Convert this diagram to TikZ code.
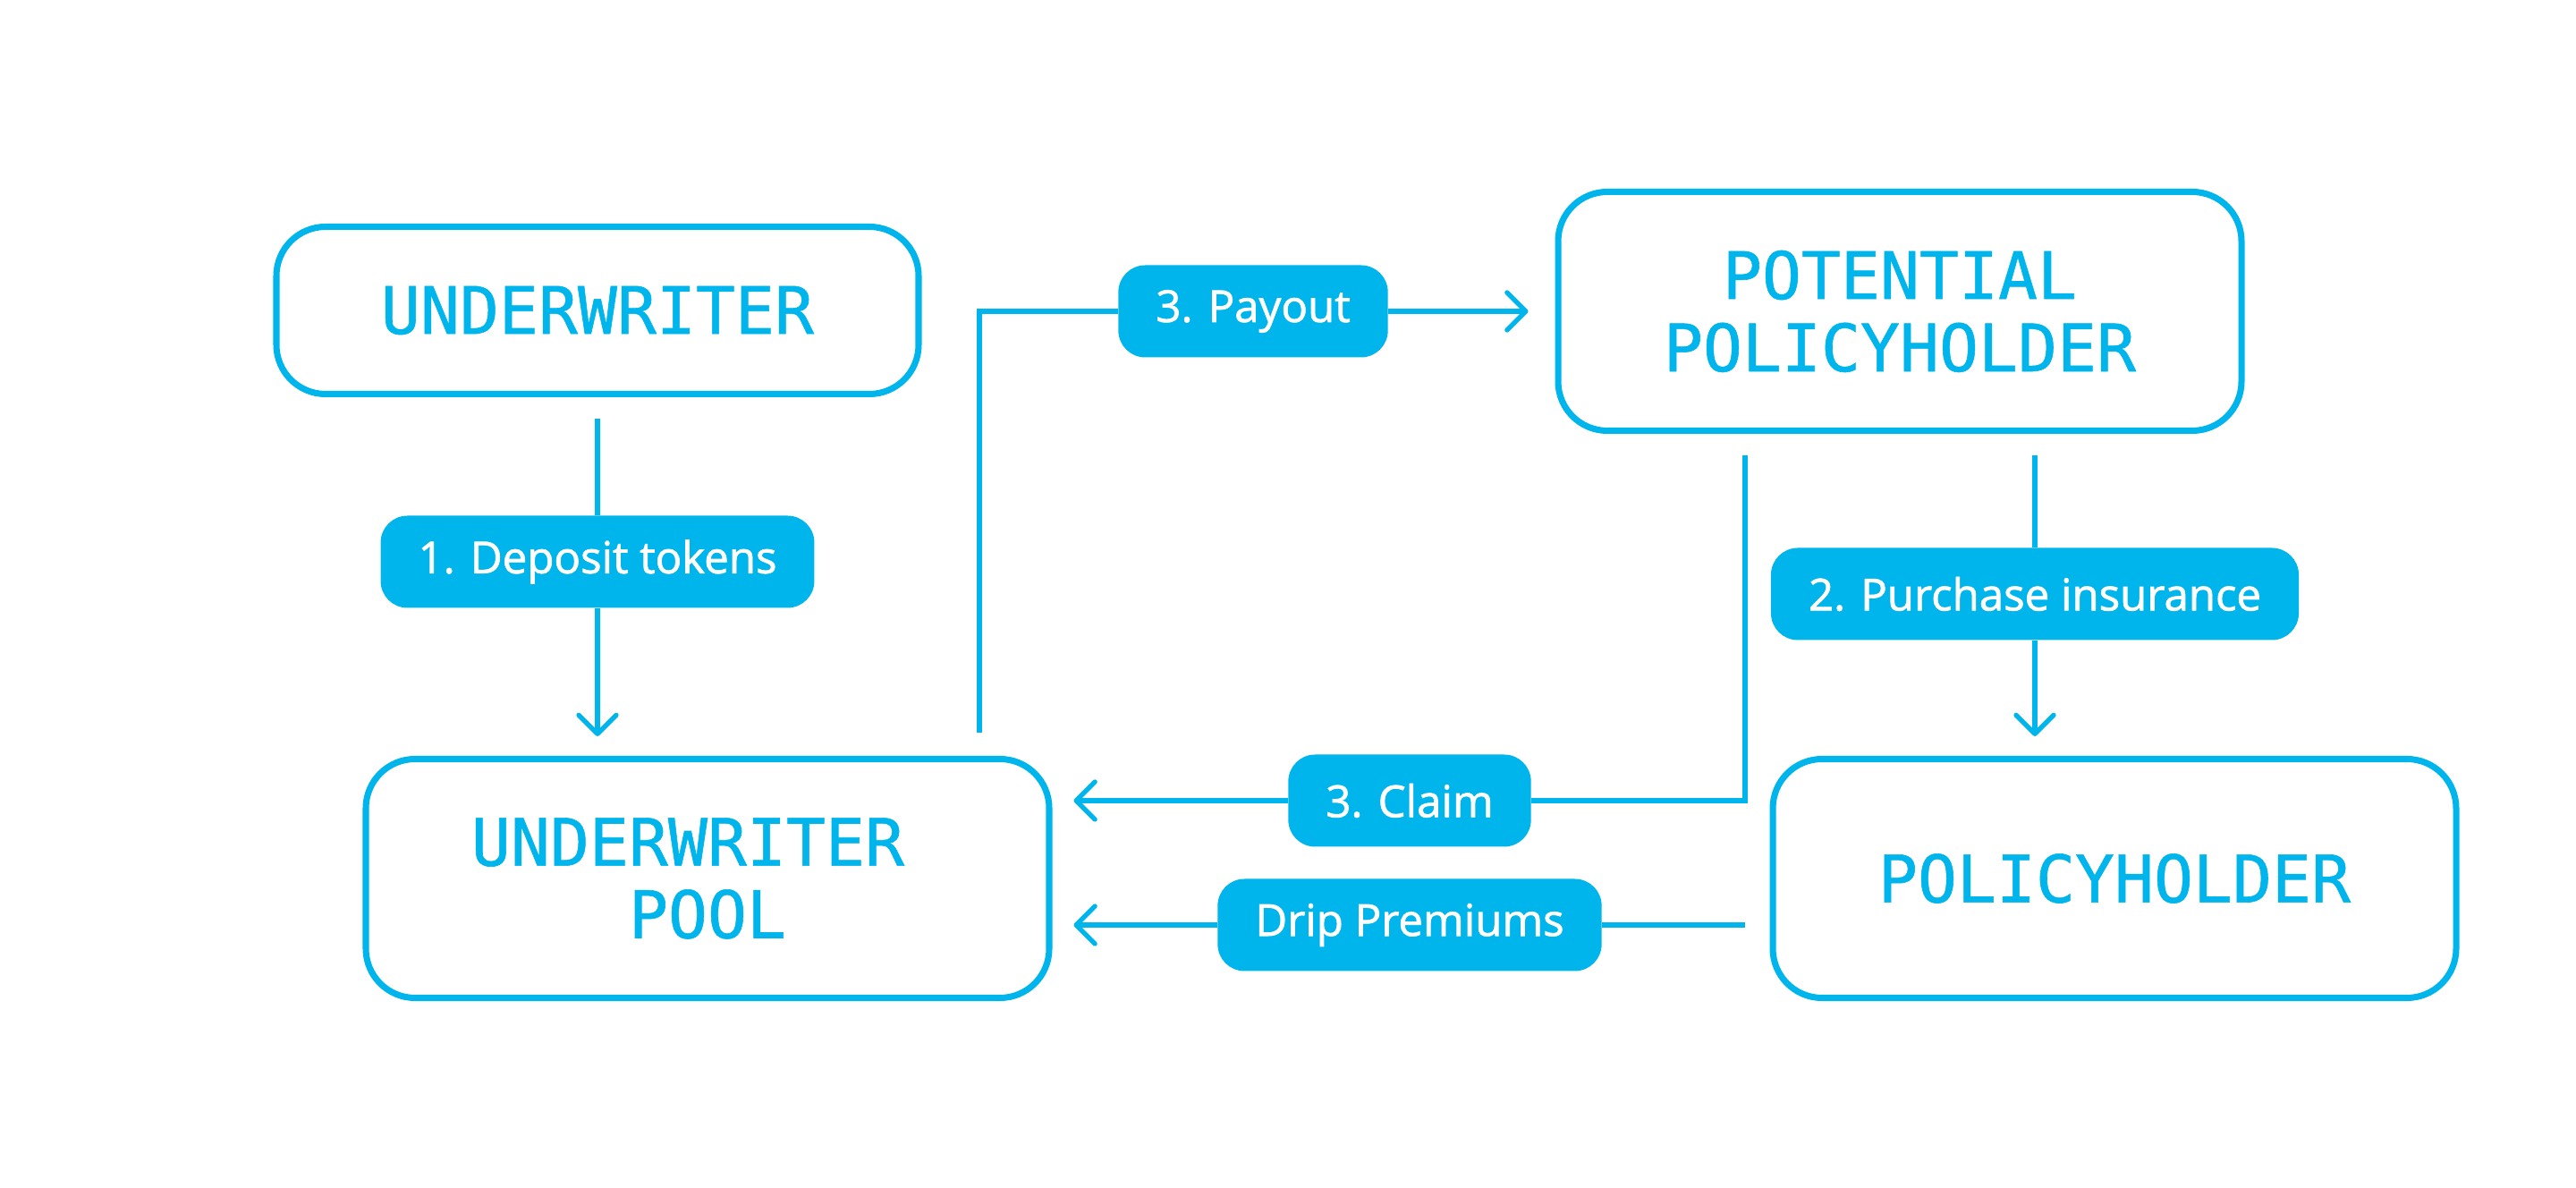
\documentclass[tikz,border=0pt]{standalone}
\usepackage{fontspec}
\setmainfont{Open Sans}
\setmonofont[FakeBold=0.8]{DejaVu Sans Mono}
\newfontfamily\tagfont[FakeBold=1.5]{Open Sans}
\usetikzlibrary{arrows.meta}
\definecolor{sky}{RGB}{0,180,236}

\begin{document}
\begin{tikzpicture}[
  actor/.style={draw=sky, line width=2pt, rounded corners=0.55cm, fill=white,
    text=sky, align=center, font=\ttfamily\fontsize{20.8}{23}\selectfont,
    minimum width=7.64cm, minimum height=2.67cm},
  tag/.style={fill=sky, rounded corners=0.3cm, text=white, inner xsep=0.42cm,
    minimum height=1.03cm, font=\tagfont\fontsize{14}{16}\selectfont},
  wire/.style={draw=sky, line width=1.5pt},
  flow/.style={wire, -{Straight Barb[length=0.21cm,width=0.42cm,round]}}
]
  \useasboundingbox (0,0) rectangle (28.8,13.28);
  % boxes
  \node[actor, minimum width=7.18cm, minimum height=1.87cm] (uw) at (6.68,9.81) {UNDERWRITER};
  \node[actor, align=left] (pool) at (7.91,3.46) {UNDERWRITER\phantom{X}\\\phantom{UNDE}POOL};
  \node[actor] (pot) at (21.24,9.80) {POTENTIAL\\POLICYHOLDER};
  \node[actor] (hold) at (23.64,3.46) {POLICYHOLDER};
  % labels
  \node[tag] (dep) at (6.68,7.00) {1. Deposit tokens};
  \node[tag] (pay) at (14.01,9.80) {3. Payout};
  \node[tag] (pur) at (22.75,6.64) {2. Purchase insurance};
  \node[tag] (clm) at (15.76,4.33) {3. Claim};
  \node[tag] (drp) at (15.76,2.94) {Drip Premiums};
  \coordinate (pay-foot) at (10.95,5.09);
  \coordinate (clm-top) at (19.51,8.19);
  % connectors
  \draw[wire, shorten <=0.24cm] (uw.south) -- (dep);
  \draw[flow, shorten >=0.22cm] (dep) -- (uw.south |- pool.north);
  \draw[wire, shorten <=0.24cm] (pot.south -| pur) -- (pur);
  \draw[flow, shorten >=0.22cm] (pur) -- (pur |- hold.north);
  \draw[wire] (pay-foot) |- (pay);
  \draw[flow, shorten >=0.3cm] (pay) -- (pot);
  \draw[wire] (clm-top) |- (clm);
  \draw[flow, shorten >=0.24cm] (clm) -- (pool.east |- clm);
  \draw[wire] (clm-top |- drp) -- (drp);
  \draw[flow, shorten >=0.24cm] (drp) -- (pool.east |- drp);
\end{tikzpicture}
\end{document}
